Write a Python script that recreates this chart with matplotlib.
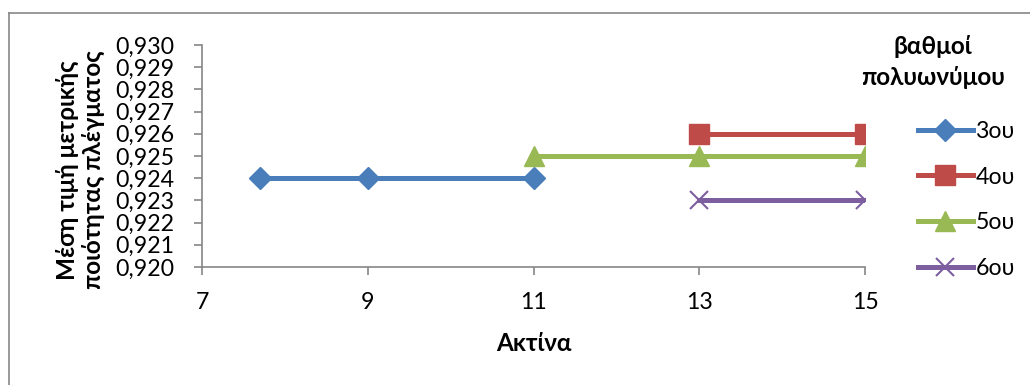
import matplotlib.pyplot as plt
from matplotlib.lines import Line2D
from matplotlib.ticker import FuncFormatter

# ================== DATA ==================
x_3 = [7.7, 9, 11]
y_3 = [0.924, 0.924, 0.924]
x_4 = [13, 15]
y_4 = [0.926, 0.926]
x_5 = [11, 13, 15]
y_5 = [0.925, 0.925, 0.925]
x_6 = [13, 15]
y_6 = [0.923, 0.923]
labels = ['3ου', '4ου', '5ου', '6ου']

x_ticks = [7, 9, 11, 13, 15]
y_ticks = [0.920, 0.921, 0.922, 0.923, 0.924, 0.925, 0.926, 0.927, 0.928, 0.929, 0.930]

plt.rcParams['font.family'] = ['Lato', 'DejaVu Sans']
FS = 16.7
FSB = 17.5

fig = plt.figure(figsize=(10.3, 3.85), dpi=100)
ax = fig.add_axes([202 / 1030, 1 - 267 / 385, 663 / 1030, 222 / 385])

blue, red, green, purple = '#4A7EBB', '#BE4B48', '#98B954', '#7D5FA0'
ax.plot(x_3, y_3, color=blue, lw=3.6, marker='D', ms=11, label=labels[0])
ax.plot(x_4, y_4, color=red, lw=3.6, marker='s', ms=14, label=labels[1])
ax.plot(x_5, y_5, color=green, lw=3.6, marker='^', ms=14.5, label=labels[2])
ax.plot(x_6, y_6, color=purple, lw=3.6, marker='x', ms=13.5, mew=1.5, label=labels[3])

ax.set_xlim(7, 15)
ax.set_ylim(0.920, 0.930)
ax.set_xticks(x_ticks)
ax.set_yticks(y_ticks)
ax.yaxis.set_major_formatter(FuncFormatter(lambda v, p: f'{v:.3f}'.replace('.', ',')))
ax.xaxis.set_major_formatter(FuncFormatter(lambda v, p: f'{v:g}'))
ax.tick_params(labelsize=FS, color='#868686', length=6, width=1.2)
ax.tick_params(axis='x', pad=12)
ax.tick_params(axis='y', pad=14)
for s in ['top', 'right']:
    ax.spines[s].set_visible(False)
for s in ['left', 'bottom']:
    ax.spines[s].set_color('#868686')
    ax.spines[s].set_linewidth(1.2)

ax.set_xlabel('Ακτίνα', fontsize=FSB, fontweight='bold', labelpad=14)
fig.text(0.078, 1 - 170 / 385, 'Μέση τιμή μετρικής\nποιότητας πλέγματος', rotation=90,
         fontsize=FSB, fontweight='bold', ha='center', va='center', linespacing=1.15)

# legend title as its own text, entries below it
fig.text(933 / 1030, 1 - 62 / 385, 'βαθμοί\nπολυωνύμου', fontsize=FSB, fontweight='bold',
         ha='center', va='center', linespacing=1.45)
fig.legend(loc='upper left', bbox_to_anchor=(918 / 1030, 1 - 121 / 385), frameon=False,
           fontsize=FS, handlelength=2.35, handletextpad=0.12, labelspacing=1.06,
           borderpad=0, borderaxespad=0)

# outer chart frame (left and top only, rest is cropped)
fig.add_artist(Line2D([9 / 1030, 9 / 1030], [0, 1 - 13 / 385], color='#888888', lw=1.2))
fig.add_artist(Line2D([9 / 1030, 1], [1 - 13 / 385, 1 - 13 / 385], color='#888888', lw=1.2))

fig.savefig('out.png', dpi=100)
